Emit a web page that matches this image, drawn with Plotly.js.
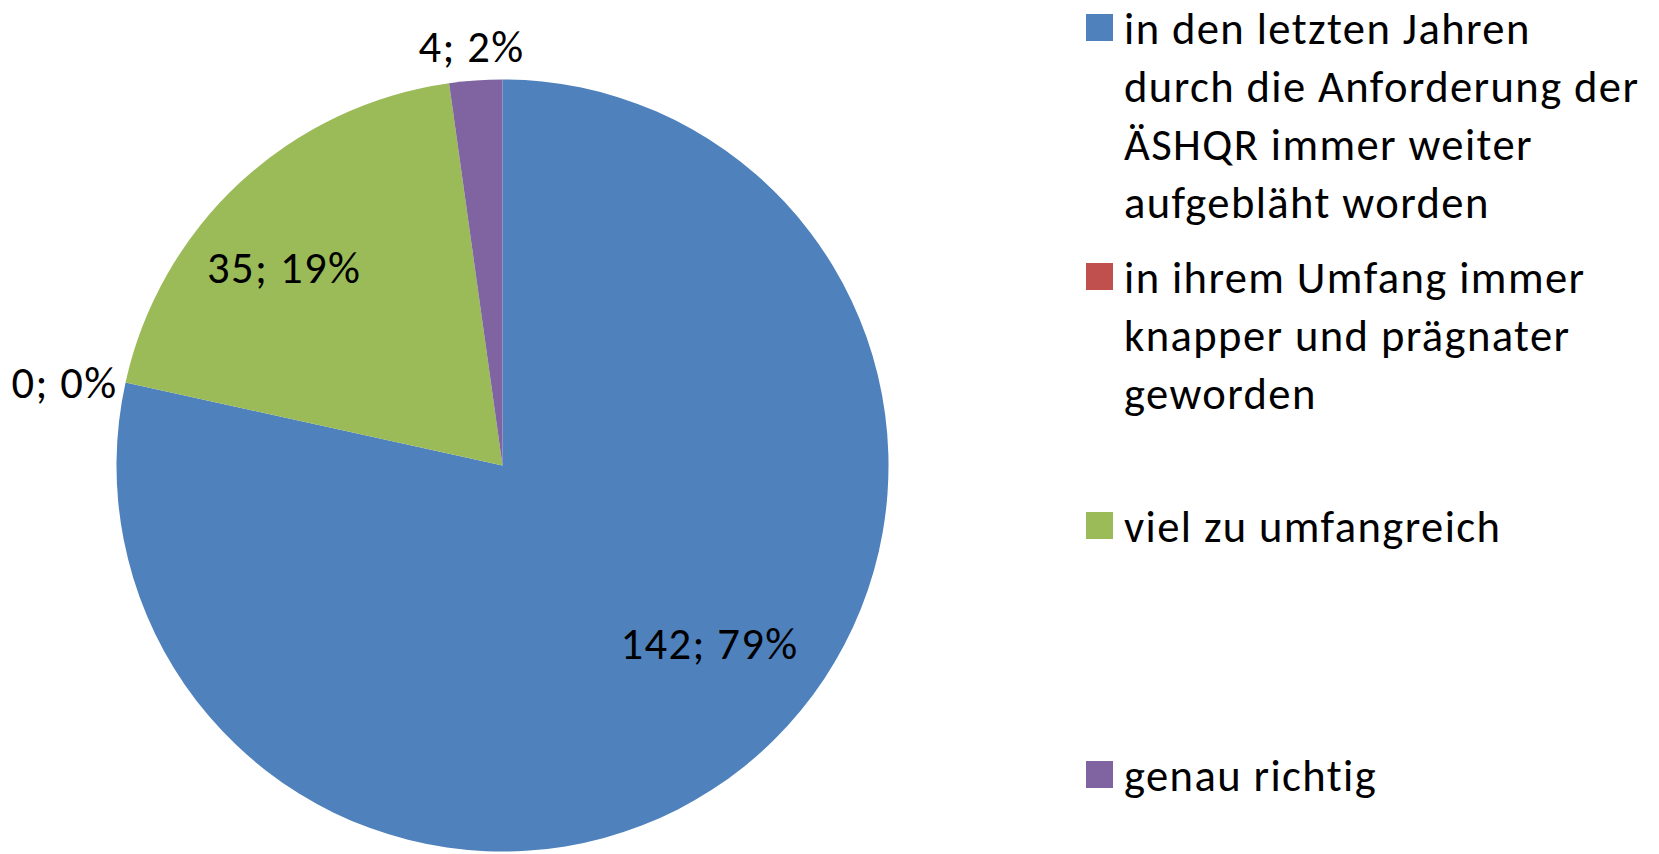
<!DOCTYPE html>
<html>
<head>
<meta charset="utf-8">
<script src="https://cdn.plot.ly/plotly-3.0.1.min.js"></script>
<style>
  html, body { margin: 0; padding: 0; background: #ffffff; }
  #chart { width: 1659px; height: 854px; }
  #chart svg text { letter-spacing: 1.4px; }
</style>
</head>
<body>
<div id="chart"></div>
<script>
// ---- data ----
const categories = [
  "in den letzten Jahren<br>durch die Anforderung der<br>ÄSHQR immer weiter<br>aufgebläht worden",
  "in ihrem Umfang immer<br>knapper und prägnater<br>geworden",
  "viel zu umfangreich",
  "genau richtig"
];
const counts = [142, 0, 35, 4];
const percentLabels = ["79%", "0%", "19%", "2%"];

// ---- styles / layout (pixels in the 1659x854 page) ----
const W = 1659, H = 854;
const sliceColors = ["#4F81BD", "#C0504D", "#9BBB59", "#8064A2"];
const FONT = "Carlito, Lato, 'Noto Sans', sans-serif";
const FS = 44.6;
// data-label centres (px) for each slice, as placed in the reference
const labelPos = [[709, 644], [64, 383], [284, 268], [472, 47]];
// legend geometry
const legendTextX = 1122, legendBoxX0 = 1086, legendBox = 27;
const legendFirstBaseline = 41, legendSlot = 249, legendTextOffset = 41;

const px = x => x / W;
const py = y => 1 - y / H;

const trace = {
  type: "pie",
  labels: categories,
  values: counts,
  textinfo: "none",
  marker: { colors: sliceColors, line: { width: 0 } },
  sort: false,
  direction: "clockwise",
  rotation: 0,
  hoverinfo: "none",
  showlegend: false,
  domain: { x: [0.0702, 0.5356], y: [0.0029, 0.9069] }
};

const annotations = [];
const shapes = [];

// slice data labels
counts.forEach((v, i) => {
  annotations.push({
    xref: "paper", yref: "paper",
    x: px(labelPos[i][0]), y: py(labelPos[i][1]),
    xanchor: "center", yanchor: "middle",
    text: v + "; " + percentLabels[i],
    showarrow: false,
    font: { family: FONT, size: FS, color: "#000000" }
  });
});

// legend entries
categories.forEach((c, i) => {
  const base = legendFirstBaseline + i * legendSlot;
  shapes.push({
    type: "rect", xref: "paper", yref: "paper",
    x0: px(legendBoxX0), x1: px(legendBoxX0 + legendBox),
    y0: py(base), y1: py(base - legendBox),
    fillcolor: sliceColors[i], line: { width: 0 }
  });
  annotations.push({
    xref: "paper", yref: "paper",
    x: px(legendTextX), y: py(base - legendTextOffset),
    xanchor: "left", yanchor: "top", align: "left",
    text: c,
    showarrow: false,
    font: { family: FONT, size: FS, color: "#000000" }
  });
});

const layout = {
  width: W,
  height: H,
  margin: { l: 0, r: 0, t: 0, b: 0 },
  paper_bgcolor: "#ffffff",
  plot_bgcolor: "#ffffff",
  showlegend: false,
  annotations: annotations,
  shapes: shapes
};

Plotly.newPlot("chart", [trace], layout, { displayModeBar: false, staticPlot: true });
</script>
</body>
</html>
